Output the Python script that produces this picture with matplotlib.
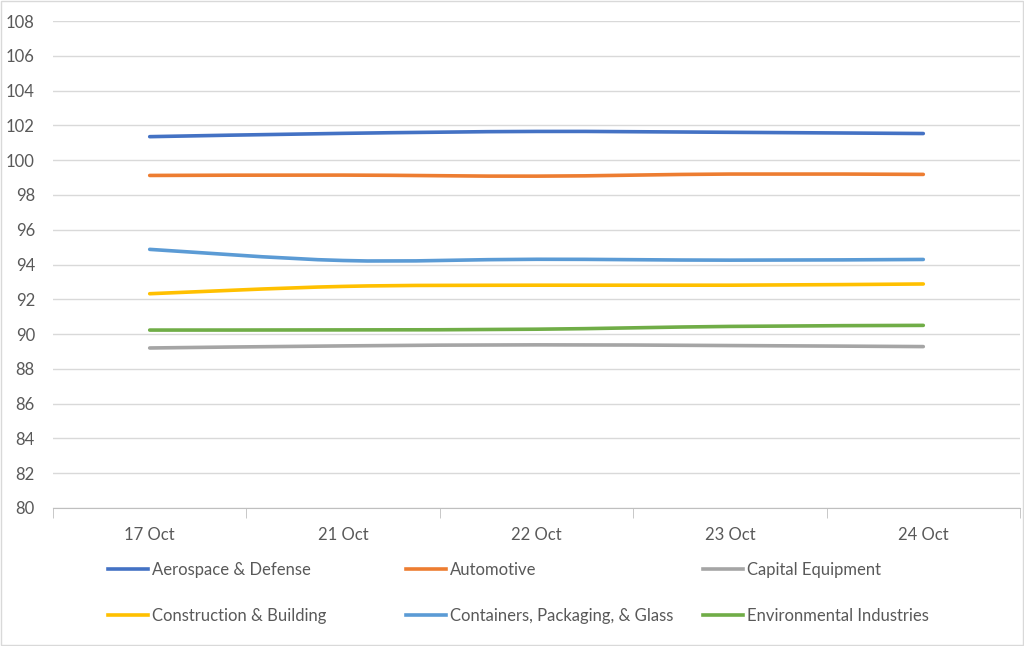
import numpy as np
import matplotlib
matplotlib.use("Agg")
import matplotlib.pyplot as plt
from matplotlib.path import Path
from matplotlib.patches import PathPatch, Rectangle
from matplotlib.lines import Line2D

plt.rcParams['font.family'] = ['Lato', 'DejaVu Sans']

# data
dates = ["17 Oct", "21 Oct", "22 Oct", "23 Oct", "24 Oct"]
aerospace = [101.35, 101.54, 101.65, 101.6, 101.53]
automotive = [99.12, 99.14, 99.08, 99.2, 99.18]
capital = [89.2, 89.32, 89.38, 89.34, 89.28]
construction = [92.32, 92.74, 92.81, 92.81, 92.88]
containers = [94.87, 94.23, 94.3, 94.25, 94.29]
environmental = [90.23, 90.24, 90.28, 90.44, 90.5]

names = ["Aerospace & Defense", "Automotive", "Capital Equipment",
         "Construction & Building", "Containers, Packaging, & Glass",
         "Environmental Industries"]
series = [aerospace, automotive, capital, construction, containers, environmental]
colors = ["#4472C4", "#ED7D31", "#A5A5A5", "#FFC000", "#5B9BD5", "#70AD47"]


def smooth_path(xs, ys, t=1 / 6):
    # Excel-style smoothed line: Catmull-Rom segments as cubic Beziers
    pts = np.column_stack([xs, ys])
    verts = [pts[0]]
    codes = [Path.MOVETO]
    n = len(pts)
    for i in range(n - 1):
        p0 = pts[i - 1] if i > 0 else pts[i]
        p1 = pts[i]
        p2 = pts[i + 1]
        p3 = pts[i + 2] if i + 2 < n else pts[i + 1]
        c1 = p1 + (p2 - p0) * t
        c2 = p2 - (p3 - p1) * t
        verts += [c1, c2, p2]
        codes += [Path.CURVE4] * 3
    return Path(verts, codes)


fig = plt.figure(figsize=(10.24, 6.46), dpi=100)
ax = fig.add_axes([53 / 1024, 1 - 508 / 646, (1020 - 53) / 1024, (508 - 21) / 646])

x = np.arange(len(dates))
for vals, c in zip(series, colors):
    ax.add_patch(PathPatch(smooth_path(x, vals), facecolor="none", edgecolor=c,
                           lw=2.6, capstyle="round", joinstyle="round", zorder=3))

ax.set_xlim(-0.5, len(dates) - 0.5)
ax.set_ylim(80, 108)
ax.set_yticks(range(80, 109, 2))
ax.set_xticks(x)
ax.set_xticklabels(dates)
ax.set_xticks(np.arange(-0.5, len(dates)), minor=True)
ax.grid(axis="y", color="#D9D9D9", lw=1)
ax.set_axisbelow(True)
for s in ["top", "right", "left"]:
    ax.spines[s].set_visible(False)
ax.spines["bottom"].set_color("#BFBFBF")
ax.tick_params(axis="y", length=0, labelsize=12, labelcolor="#595959", pad=13)
ax.tick_params(axis="x", which="major", length=0, labelsize=12, labelcolor="#595959", pad=14)
ax.tick_params(axis="x", which="minor", length=7, color="#BFBFBF")

# legend entries, row by row, three columns
col_x = [108, 406, 703]
row_y = [570, 616]
for i, (name, c) in enumerate(zip(names, colors)):
    px = col_x[i % 3] / 1024
    py = 1 - row_y[i // 3] / 646
    fig.legend([Line2D([], [], color=c, lw=2.6)], [name], loc="center left",
               bbox_to_anchor=(px, py), frameon=False, fontsize=12,
               labelcolor="#595959", handlelength=2.4, handletextpad=0.25,
               borderpad=0, borderaxespad=0)

fig.add_artist(Rectangle((0.001, 0.001), 0.998, 0.998, transform=fig.transFigure,
                         fill=False, edgecolor="#D9D9D9", lw=1))

fig.savefig("out.png", dpi=100)
